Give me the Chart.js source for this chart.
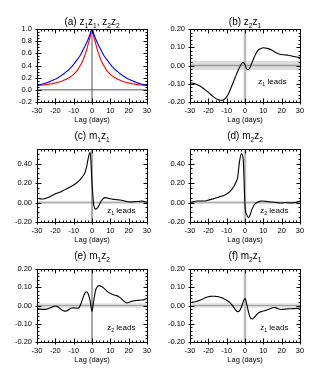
<!DOCTYPE html>
<html><head><meta charset="utf-8">
<script src="https://cdn.jsdelivr.net/npm/chart.js@4.4.1/dist/chart.umd.min.js"></script>
<style>
html,body{margin:0;padding:0;background:#fff;width:315px;height:372px;overflow:hidden}
.p{position:absolute;width:158px;height:130px}
canvas{display:block}
</style></head><body>
<div class="p" style="left:0;top:0"><canvas id="c0" width="158" height="130"></canvas></div>
<div class="p" style="left:153px;top:0"><canvas id="c1" width="158" height="130"></canvas></div>
<div class="p" style="left:0;top:120px"><canvas id="c2" width="158" height="130"></canvas></div>
<div class="p" style="left:153px;top:120px"><canvas id="c3" width="158" height="130"></canvas></div>
<div class="p" style="left:0;top:240px"><canvas id="c4" width="158" height="130"></canvas></div>
<div class="p" style="left:153px;top:240px"><canvas id="c5" width="158" height="130"></canvas></div>
<script>
const FONT = '"Liberation Sans", Arial, Helvetica, sans-serif';

const LAGS = [-30,-29,-28,-27,-26,-25,-24,-23,-22,-21,-20,-19,-18,-17,-16,-15,-14,-13,-12,-11,-10,-9,-8,-7,-6,-5,-4,-3,-2,-1,0,1,2,3,4,5,6,7,8,9,10,11,12,13,14,15,16,17,18,19,20,21,22,23,24,25,26,27,28,29,30];
const X_TICKS = [-30,-20,-10,0,10,20,30];
const Y_TICKS_A = [-0.2,0,0.2,0.4,0.6,0.8,1.0];
const Y_TICKS_S = [-0.2,-0.1,0,0.1,0.2];
const Y_TICKS_M = [-0.2,0,0.2,0.4];

const TITLES = ['(a) z_1z_1, z_2z_2','(b) z_2z_1','(c) m_1z_1','(d) m_2z_2','(e) m_1z_2','(f) m_2z_1'];
const LEADS  = ['','z_1 leads','z_1 leads','z_2 leads','z_2 leads','z_1 leads'];
const X_LABEL = 'Lag (days)';

const z1z1 = [0.075,0.081,0.088,0.096,0.104,0.114,0.124,0.135,0.148,0.161,0.176,0.19,0.21,0.23,0.25,0.27,0.30,0.32,0.35,0.38,0.42,0.46,0.50,0.54,0.59,0.65,0.71,0.77,0.84,0.92,
 1.00,
 0.92,0.84,0.77,0.71,0.65,0.59,0.54,0.50,0.46,0.42,0.38,0.35,0.32,0.30,0.27,0.25,0.23,0.21,0.19,0.176,0.161,0.148,0.135,0.124,0.114,0.104,0.096,0.088,0.081,0.075];
const z2z2 = [0.072,0.074,0.076,0.079,0.082,0.086,0.09,0.095,0.10,0.106,0.113,0.12,0.128,0.138,0.148,0.16,0.175,0.19,0.21,0.23,0.255,0.285,0.32,0.37,0.42,0.48,0.56,0.65,0.76,0.87,
 1.00,
 0.87,0.76,0.65,0.56,0.48,0.42,0.37,0.32,0.285,0.255,0.23,0.21,0.19,0.175,0.16,0.148,0.138,0.128,0.12,0.113,0.106,0.10,0.095,0.09,0.086,0.082,0.079,0.076,0.074,0.072];
const z2z1 = [-0.095,-0.096,-0.098,-0.101,-0.105,-0.110,-0.116,-0.123,-0.131,-0.139,-0.147,-0.156,-0.165,-0.173,-0.180,-0.185,-0.189,-0.190,-0.189,-0.183,-0.172,-0.155,-0.132,-0.107,-0.082,-0.057,-0.033,-0.011,0.008,0.017,
 0.003,
 -0.020,-0.022,-0.005,0.020,0.045,0.066,0.081,0.090,0.095,0.097,0.096,0.094,0.091,0.087,0.082,0.076,0.070,0.065,0.062,0.060,0.059,0.058,0.057,0.055,0.053,0.051,0.049,0.047,0.045,0.043];
const m1z1 = [0.045,0.042,0.038,0.036,0.038,0.044,0.052,0.060,0.070,0.080,0.090,0.097,0.103,0.110,0.120,0.130,0.140,0.150,0.160,0.170,0.180,0.193,0.208,0.225,0.245,0.270,0.300,0.360,0.460,0.515,
 0.200,
 -0.030,-0.068,-0.055,-0.020,0.015,0.038,0.050,0.048,0.043,0.038,0.035,0.032,0.030,0.028,0.026,0.024,0.020,0.015,0.010,0.008,0.006,0.007,0.008,0.010,0.010,0.012,0.014,0.012,0.008,0.004];
const m2z2 = [0.000,0.005,0.010,0.014,0.016,0.016,0.015,0.015,0.016,0.020,0.025,0.030,0.035,0.040,0.046,0.052,0.058,0.064,0.070,0.078,0.088,0.100,0.118,0.140,0.168,0.205,0.260,0.420,0.500,0.450,
 -0.030,
 -0.130,-0.155,-0.115,-0.060,-0.025,-0.005,0.005,0.012,0.015,0.015,0.013,0.010,0.008,0.006,0.005,0.003,0.000,-0.003,-0.005,-0.005,-0.003,0.000,-0.002,-0.004,-0.005,-0.003,-0.001,0.002,0.008,0.015];
const m1z2 = [-0.015,-0.018,-0.020,-0.021,-0.021,-0.020,-0.018,-0.014,-0.009,-0.005,-0.003,-0.006,-0.012,-0.020,-0.027,-0.031,-0.030,-0.025,-0.018,-0.014,-0.013,-0.014,-0.015,-0.010,0.010,0.040,0.065,0.075,0.062,0.025,
 -0.032,
 0.030,0.085,0.104,0.109,0.106,0.099,0.090,0.080,0.072,0.066,0.062,0.058,0.055,0.052,0.046,0.038,0.028,0.019,0.014,0.016,0.020,0.024,0.026,0.027,0.028,0.029,0.030,0.031,0.034,0.038];
const m2z1 = [0.016,0.017,0.019,0.021,0.024,0.027,0.031,0.036,0.041,0.045,0.048,0.050,0.051,0.051,0.050,0.049,0.047,0.044,0.040,0.035,0.029,0.022,0.013,0.002,-0.012,-0.026,-0.034,-0.030,-0.010,0.020,
 0.039,
 0.005,-0.040,-0.068,-0.074,-0.066,-0.054,-0.044,-0.037,-0.033,-0.030,-0.028,-0.025,-0.020,-0.016,-0.012,-0.011,-0.013,-0.018,-0.021,-0.022,-0.021,-0.020,-0.019,-0.018,-0.018,-0.017,-0.017,-0.016,-0.015,-0.015];

function richSegs(str){
  const segs=[];
  for(let i=0;i<str.length;i++){
    if(str[i]==='_'){segs.push({t:str[i+1],sub:true});i++;}
    else if(segs.length && !segs[segs.length-1].sub){segs[segs.length-1].t+=str[i];}
    else segs.push({t:str[i],sub:false});
  }
  return segs;
}
function drawRich(ctx,str,cx,base,size){
  const segs=richSegs(str), ss=size*0.66;
  let w=0;
  segs.forEach(s=>{ctx.font=(s.sub?ss:size)+'px '+FONT; s.w=ctx.measureText(s.t).width; w+=s.w;});
  let xx=cx-w/2;
  ctx.textAlign='left'; ctx.textBaseline='alphabetic'; ctx.fillStyle='#000';
  segs.forEach(s=>{ctx.font=(s.sub?ss:size)+'px '+FONT; ctx.fillText(s.t,xx,base+(s.sub?size*0.25:0)); xx+=s.w;});
}

const panelPlugin = {
  id:'panel',
  beforeDatasetsDraw(chart){
    const p=chart.options.plugins.panel; if(!p) return;
    const {ctx,chartArea:ca,scales:{x,y}}=chart;
    ctx.save();
    ctx.beginPath(); ctx.rect(ca.left,ca.top,ca.right-ca.left,ca.bottom-ca.top); ctx.clip();
    if(p.band){
      const y1=y.getPixelForValue(p.band), y2=y.getPixelForValue(-p.band);
      ctx.fillStyle=p.bandColor; ctx.fillRect(ca.left,y1,ca.right-ca.left,y2-y1);
    }
    const y0=y.getPixelForValue(0);
    ctx.strokeStyle=p.hColor; ctx.lineWidth=p.hWidth;
    ctx.beginPath(); ctx.moveTo(ca.left,y0); ctx.lineTo(ca.right,y0); ctx.stroke();
    const x0=x.getPixelForValue(0);
    ctx.strokeStyle=p.vColor; ctx.lineWidth=p.vWidth;
    ctx.beginPath(); ctx.moveTo(x0,ca.top); ctx.lineTo(x0,ca.bottom); ctx.stroke();
    ctx.restore();
  },
  afterDatasetsDraw(chart){
    const p=chart.options.plugins.panel; if(!p) return;
    const {ctx,chartArea:ca,scales:{x,y}}=chart;
    ctx.save();
    const L=Math.round(ca.left)+0.5, R=Math.round(ca.right)+0.5, T=Math.round(ca.top)+0.5, B=Math.round(ca.bottom)+0.5;
    ctx.strokeStyle='#000'; ctx.lineWidth=1;
    ctx.beginPath(); ctx.rect(L,T,R-L,B-T); ctx.stroke();
    ctx.beginPath();
    for(let v=-30; v<=30; v+=2){
      const px=Math.round(x.getPixelForValue(v))+0.5;
      const major = X_TICKS.includes(v);
      const len = major?4:2;
      ctx.moveTo(px,B); ctx.lineTo(px,B-len);
      ctx.moveTo(px,T); ctx.lineTo(px,T+len);
      if(major){ctx.moveTo(px,B); ctx.lineTo(px,B+2);}
    }
    const yt=p.yTicks, step=p.yMinor;
    const nmin=Math.ceil(y.min/step-1e-6), nmax=Math.floor(y.max/step+1e-6);
    for(let n=nmin;n<=nmax;n++){
      const v=n*step;
      const py=Math.round(y.getPixelForValue(v))+0.5;
      const major = yt.some(t=>Math.abs(t-v)<1e-6);
      const len = major?4:2;
      ctx.moveTo(L,py); ctx.lineTo(L+len,py);
      ctx.moveTo(R,py); ctx.lineTo(R-len,py);
      if(major){ctx.moveTo(L,py); ctx.lineTo(L-2,py);}
    }
    ctx.stroke();
    drawRich(ctx,p.title,(ca.left+ca.right)/2,p.titleBase,10);
    if(p.lead){
      drawRich(ctx,p.lead,x.getPixelForValue(p.leadX),y.getPixelForValue(p.leadY)+3,8);
    }
    ctx.restore();
  }
};

const tickFont={family:FONT,size:7.5};
function makePanel(i,series,yMin,yMax,yTicks,dec,yMinor,extra){
  const datasets=series.map(s=>({
    data:s.data.map((v,k)=>({x:LAGS[k],y:v})),
    borderColor:s.color,borderWidth:1.1,pointRadius:0,fill:false,
    cubicInterpolationMode:'monotone'
  }));
  const row=Math.floor(i/2);
  const panel=Object.assign({
    title:TITLES[i], lead:LEADS[i], yTicks, yMinor,
    titleBase: row===0?25:19
  },extra);
  new Chart(document.getElementById('c'+i),{
    type:'line',
    data:{datasets},
    options:{
      responsive:false,animation:false,
      layout:{padding:{top:29,left:0,right:11,bottom:0}},
      plugins:{legend:{display:false},tooltip:{enabled:false},title:{display:false},panel},
      scales:{
        x:{type:'linear',min:-30,max:30,
          grid:{display:false,drawTicks:false},border:{display:false},
          afterBuildTicks:s=>{s.ticks=X_TICKS.map(v=>({value:v}));},
          afterFit:s=>{s.height=28;},
          ticks:{font:tickFont,color:'#000',padding:4,maxRotation:0,autoSkip:false,callback:v=>String(v)},
          title:{display:true,text:X_LABEL,font:tickFont,color:'#000',padding:{top:0,bottom:5.5}}
        },
        y:{type:'linear',min:yMin,max:yMax,
          grid:{display:false,drawTicks:false},border:{display:false},
          afterBuildTicks:s=>{s.ticks=yTicks.map(v=>({value:v}));},
          afterFit:s=>{s.width=37;},
          ticks:{font:tickFont,color:'#000',padding:5,autoSkip:false,callback:v=>Number(v).toFixed(dec)}
        }
      }
    },
    plugins:[panelPlugin]
  });
}

const THIN={vColor:'#555',vWidth:1};
const THICK={vColor:'#bdbdbd',vWidth:2.5};
makePanel(0,[{data:z1z1,color:'#0000ff'},{data:z2z2,color:'#ff0000'}],-0.2,1.0,Y_TICKS_A,1,0.05,
  Object.assign({band:0,hColor:'#555',hWidth:1},THIN));
makePanel(1,[{data:z2z1,color:'#000'}],-0.2,0.2,Y_TICKS_S,2,0.02,
  Object.assign({band:0.025,bandColor:'#dcdcdc',hColor:'#999',hWidth:1.5,leadX:15,leadY:-0.085},THICK));
makePanel(2,[{data:m1z1,color:'#000'}],-0.2,0.55,Y_TICKS_M,2,0.05,
  Object.assign({band:0,hColor:'#b4b4b4',hWidth:2,leadX:16,leadY:-0.08},THIN));
makePanel(3,[{data:m2z2,color:'#000'}],-0.2,0.55,Y_TICKS_M,2,0.05,
  Object.assign({band:0,hColor:'#b4b4b4',hWidth:2,leadX:16,leadY:-0.08},THICK));
makePanel(4,[{data:m1z2,color:'#000'}],-0.2,0.2,Y_TICKS_S,2,0.02,
  Object.assign({band:0.012,bandColor:'#dcdcdc',hColor:'#a0a0a0',hWidth:1,leadX:16,leadY:-0.12},THIN));
makePanel(5,[{data:m2z1,color:'#000'}],-0.2,0.2,Y_TICKS_S,2,0.02,
  Object.assign({band:0.012,bandColor:'#dcdcdc',hColor:'#a0a0a0',hWidth:1,leadX:16,leadY:-0.12},THICK));
</script>
</body></html>
